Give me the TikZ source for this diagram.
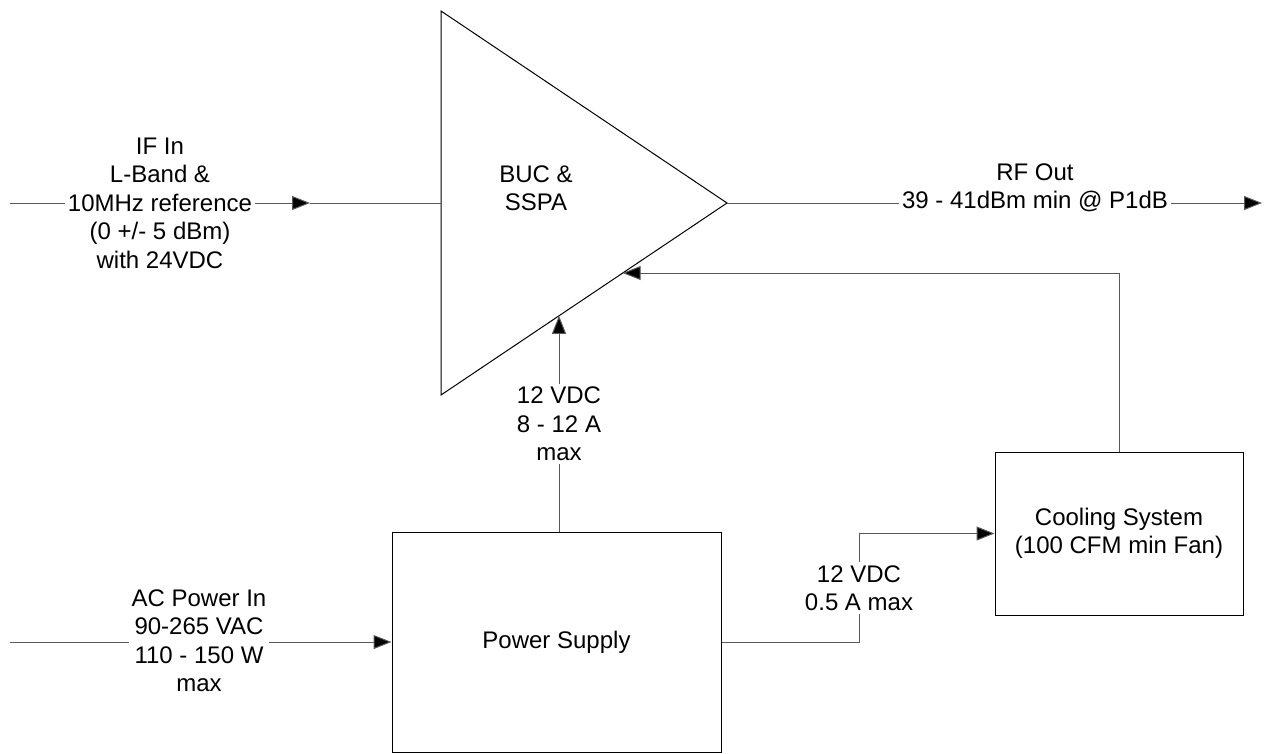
\documentclass[tikz,border=0pt]{standalone}
\usepackage{fontspec}
\setmainfont{Liberation Sans}
\usetikzlibrary{arrows.meta,calc}
\begin{document}
\begin{tikzpicture}[x=1pt,y=-1pt,
  conn/.style={line width=1pt, draw=black!65},
  arr/.style={conn, -{Triangle[length=18pt,width=14pt,fill=black]}},
  lbl/.style={fill=white, align=center, font=\fontsize{24}{28.5}\selectfont, inner sep=3pt},
  blk/.style={draw=black, line width=1pt},
  txt/.style={align=center, font=\fontsize{24}{28.5}\selectfont}]
\useasboundingbox (0,0) rectangle (1265,753);
% amplifier triangle
\coordinate (tl) at (441,11);
\coordinate (bl) at (441,395);
\coordinate (ap) at (727,203);
\coordinate (tin) at (441,203);
\coordinate (fbIn) at ($(ap)!0.3646!(bl)$);
\coordinate (psIn) at ($(ap)!0.5874!(bl)$);
\draw[blk, line join=miter] (tl) -- (ap) -- (bl) -- cycle;
\node[txt] (buc) at (536,188) {BUC \&\\SSPA};
% blocks
\node[blk, minimum width=329pt, minimum height=220pt, txt] (ps) at (556.5,642) {Power Supply};
\node[blk, minimum width=248pt, minimum height=163pt, txt] (cool) at (1119,533.5) {Cooling System\\(100 CFM min Fan)};
% IF input
\coordinate (ifs) at (10,203);
\coordinate (ifarr) at (310,203);
\draw[arr] (ifs) -- (ifarr);
\draw[conn] (ifarr) -- (tin);
\node[lbl] (iflbl) at (160,203) {IF In\\L-Band \&\\10MHz reference\\(0 +/- 5 dBm)\\with 24VDC};
% RF output
\coordinate (rfend) at (1262,203);
\draw[arr] (ap) -- (rfend);
\node[lbl] (rflbl) at (1035,188) {RF Out\\39 - 41dBm min @ P1dB};
% feedback from cooling
\draw[arr] (cool.north) |- (fbIn);
% power supply to amplifier
\draw[arr] (psIn |- ps.north) -- (psIn);
\node[lbl] (pslbl) at (559,424) {12 VDC\\8 - 12 A\\max};
% power supply to cooling
\coordinate (bend) at (859,588);
\draw[arr] (ps.east) -| (bend) |- (cool.west);
\node[lbl] (coollbl) at (bend) {12 VDC\\0.5 A max};
% AC input
\coordinate (acs) at (10,642);
\draw[arr] (acs) -- (ps.west);
\node[lbl] (aclbl) at (199,640.5) {AC Power In\\90-265 VAC\\110 - 150 W\\max};
\end{tikzpicture}
\end{document}
